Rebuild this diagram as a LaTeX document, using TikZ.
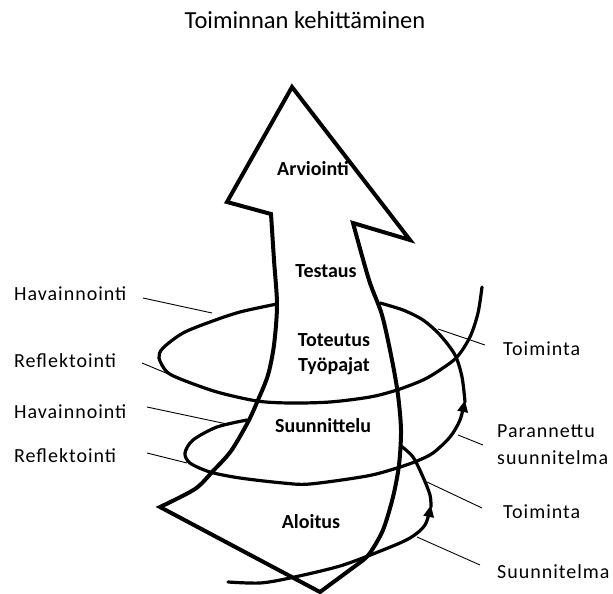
\documentclass[tikz,border=0pt]{standalone}
\usepackage{fontspec}
\setmainfont{Carlito}
\newfontfamily\lblfont{Carlito}[LetterSpace=5]
\usetikzlibrary{arrows.meta}
\begin{document}
\begin{tikzpicture}[x=1pt,y=-1pt,
  outline/.style={line width=4pt, line join=miter},
  spiral/.style={line width=3.2pt, line cap=round},
  headed/.style={spiral, -{Triangle[length=12pt,width=10pt]}},
  pointer/.style={line width=0.9pt},
  lbl/.style={inner sep=0pt, anchor=base west, font=\lblfont\fontsize{20}{24}\selectfont},
  stage/.style={inner sep=0pt, anchor=base, font=\bfseries\fontsize{20}{24}\selectfont},
  title/.style={inner sep=0pt, anchor=base, font=\fontsize{24.5}{29}\selectfont},
]
\useasboundingbox (0,0) rectangle (613,594);

% title
\node[title] (ttl) at (305,29) {Toiminnan kehittäminen};

% the big upward arrow
\draw[outline] (271,214) -- (227,202) -- (292,87) -- (410,240) -- (353,223)
  -- plot[smooth, tension=0.5] coordinates {(353,223) (369,280) (382,315) (392,360)
       (398,395) (401,430) (399,465) (393,497) (383,530) (370,553) (362,561)}
  -- (320,592) -- (160,507)
  -- plot[smooth, tension=0.5] coordinates {(160,507) (195,489) (213,471) (231,451)
       (248,422) (258,400) (268,375) (274,345) (277,305) (274,260) (271,214)}
  -- cycle;

% spiral: first turn, from the start up to the hidden part
\draw[headed] plot[smooth] coordinates {(228,582) (260,583) (290,578) (340,566)
       (383,550) (410,538) (425,525) (431,505)};
\draw[spiral] plot[smooth] coordinates {(431,507) (430,495) (423,477) (413,457) (401,446)};

% spiral: second turn
\draw[headed] plot[smooth] coordinates {(247,420) (217,427) (193,440) (185,453)
       (190,463) (210,472) (240,478) (283,483) (310,484) (367,476) (397,468)
       (417,461) (433,453) (450,437) (460,420) (465,400)};
\draw[spiral] plot[smooth] coordinates {(465,402) (462,377) (455,355) (440,335)
       (423,320) (403,310) (380,303)};

% spiral: third turn, open end at the top right
\draw[spiral] plot[smooth] coordinates {(277,304) (240,312) (210,322) (183,333)
       (163,348) (159,358) (167,372) (183,380) (217,392) (257,401) (290,403)
       (330,402) (370,397) (397,390) (423,380) (440,370) (457,357) (470,337)
       (478,313) (482,287)};

% stage names inside the arrow
\node[stage] (arv) at (313,175) {Arviointi};
\node[stage] (tes) at (326,277) {Testaus};
\node[stage] (tot) at (334,346) {Toteutus};
\node[stage] (tyo) at (334,371) {Työpajat};
\node[stage] (suu) at (323,432) {Suunnittelu};
\node[stage] (alo) at (311,528) {Aloitus};

% labels on the left
\node[lbl] (hav1) at (14,300) {Havainnointi};
\node[lbl] (ref1) at (14,367) {Reflektointi};
\node[lbl] (hav2) at (14,418) {Havainnointi};
\node[lbl] (ref2) at (14,462) {Reflektointi};

% labels on the right
\node[lbl] (toi1) at (503,355) {Toiminta};
\node[lbl] (par)  at (497,437) {Parannettu};
\node[lbl] (psu)  at (497,464) {suunnitelma};
\node[lbl] (toi2) at (503,518) {Toiminta};
\node[lbl] (sui)  at (497,578) {Suunnitelma};

% pointer lines
\coordinate (hav1a) at (143,298); \coordinate (hav1b) at (212,313);
\coordinate (ref1a) at (142,363); \coordinate (ref1b) at (178,378);
\coordinate (hav2a) at (147,407); \coordinate (hav2b) at (227,424);
\coordinate (ref2a) at (147,453); \coordinate (ref2b) at (187,463);
\coordinate (toi1a) at (485,345); \coordinate (toi1b) at (438,329);
\coordinate (para)  at (483,445); \coordinate (parb)  at (458,435);
\coordinate (toi2a) at (482,508); \coordinate (toi2b) at (427,482);
\coordinate (suia)  at (480,565); \coordinate (suib)  at (417,537);
\draw[pointer] (hav1a) -- (hav1b);
\draw[pointer] (ref1a) -- (ref1b);
\draw[pointer] (hav2a) -- (hav2b);
\draw[pointer] (ref2a) -- (ref2b);
\draw[pointer] (toi1a) -- (toi1b);
\draw[pointer] (para) -- (parb);
\draw[pointer] (toi2a) -- (toi2b);
\draw[pointer] (suia) -- (suib);
\end{tikzpicture}
\end{document}
